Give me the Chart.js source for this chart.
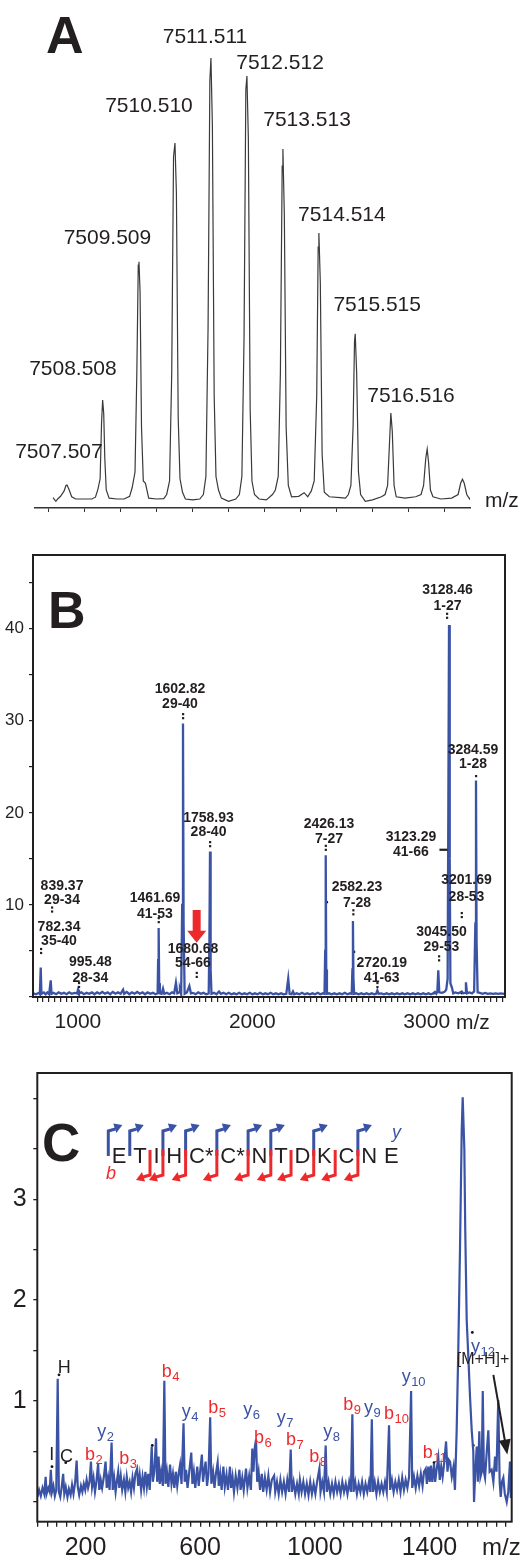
<!DOCTYPE html>
<html>
<head>
<meta charset="utf-8">
<script src="https://cdn.jsdelivr.net/npm/chart.js@4.4.1/dist/chart.umd.min.js"></script>
<style>
html, body { margin: 0; padding: 0; background: #fff; }
#wrap { position: relative; width: 521px; height: 1557px; }
canvas { position: absolute; left: 0; }
</style>
</head>
<body>
<div id="wrap">
  <canvas id="chartA" width="521" height="520" style="top:0px"></canvas>
  <canvas id="chartB" width="521" height="515" style="top:520px"></canvas>
  <canvas id="chartC" width="521" height="522" style="top:1035px"></canvas>
</div>
<script>
// ---------- panel A : isotope cluster ----------
var labelsA = ['7507.507', '7508.508', '7509.509', '7510.510', '7511.511',
               '7512.512', '7513.513', '7514.514', '7515.515', '7516.516'];
var ticksA = [7507, 7508, 7509, 7510, 7511, 7512, 7513, 7514, 7515, 7516, 7517, 7518];
var traceA = [
  [7507.12, 2.3], [7507.2, 1.5], [7507.25, 2.0], [7507.33, 2.6], [7507.43, 3.8], [7507.48, 5.0], [7507.51, 5.1],
  [7507.56, 4.2], [7507.64, 2.5], [7507.75, 2.0], [7508.0, 2.0], [7508.2, 2.0],
  [7508.30, 2.4], [7508.37, 4.2], [7508.43, 6.5], [7508.47, 19], [7508.50, 24], [7508.53, 21], [7508.56, 11],
  [7508.60, 4], [7508.68, 2.2], [7508.9, 2.0], [7509.1, 2.0],
  [7509.25, 2.6], [7509.32, 4.5], [7509.40, 8], [7509.45, 30], [7509.49, 54], [7509.51, 54.7], [7509.54, 48],
  [7509.58, 18], [7509.63, 6], [7509.69, 5.5], [7509.78, 2.2], [7510.0, 2.0], [7510.2, 2.1],
  [7510.28, 3.0], [7510.36, 6], [7510.42, 30], [7510.47, 78], [7510.51, 81.1], [7510.55, 70], [7510.60, 20],
  [7510.65, 6.5], [7510.72, 3.5], [7510.80, 2.0], [7511.0, 1.8], [7511.2, 2.0],
  [7511.30, 3.0], [7511.37, 7], [7511.43, 40], [7511.48, 95], [7511.51, 100], [7511.55, 85], [7511.60, 25],
  [7511.65, 7], [7511.72, 4], [7511.8, 2.2], [7512.0, 1.5], [7512.2, 2.0],
  [7512.30, 3], [7512.37, 7], [7512.43, 38], [7512.48, 93], [7512.51, 96], [7512.55, 82], [7512.60, 22],
  [7512.65, 6], [7512.72, 3], [7512.85, 2], [7513.05, 1.8], [7513.22, 3],
  [7513.30, 4], [7513.38, 7], [7513.44, 30], [7513.49, 76], [7513.51, 79.8], [7513.55, 65], [7513.60, 18],
  [7513.66, 5], [7513.75, 2.5], [7513.95, 2.6], [7514.1, 3.4], [7514.2, 2.5],
  [7514.30, 3.8], [7514.38, 6], [7514.45, 25], [7514.49, 58], [7514.51, 61.1], [7514.55, 50], [7514.60, 12],
  [7514.66, 3.5], [7514.8, 2.5], [7515.1, 2.3], [7515.25, 2.2],
  [7515.33, 3.0], [7515.40, 5], [7515.46, 18], [7515.50, 37], [7515.52, 38.7], [7515.56, 30], [7515.61, 8],
  [7515.67, 3], [7515.8, 1.5], [7516.0, 1.8], [7516.25, 2.5],
  [7516.35, 3.0], [7516.42, 5], [7516.47, 14], [7516.51, 21.1], [7516.55, 17], [7516.60, 5], [7516.66, 2.5],
  [7516.9, 2.2], [7517.2, 2.5],
  [7517.35, 3], [7517.42, 5], [7517.48, 11], [7517.52, 13.1], [7517.56, 10], [7517.61, 4], [7517.68, 2.5],
  [7517.9, 2.0], [7518.2, 2.2],
  [7518.38, 3], [7518.45, 5.5], [7518.50, 6.4], [7518.55, 5.5], [7518.62, 3], [7518.70, 2.0], [7518.77, 3.0]
];

// ---------- panel B : MALDI spectrum of digest ----------
var yTickLabelsB = [10, 20, 30, 40];
var xTickLabelsB = [1000, 2000, 3000];
var peakTextB = [
  ['782.34', '35-40'], ['839.37', '29-34'], ['995.48', '28-34'], ['1461.69', '41-53'],
  ['1602.82', '29-40'], ['1680.68', '54-66'], ['1758.93', '28-40'], ['2426.13', '7-27'],
  ['2582.23', '7-28'], ['2720.19', '41-63'], ['3045.50', '29-53'], ['3128.46', '1-27'],
  ['3123.29', '41-66'], ['3201.69', '28-53'], ['3284.59', '1-28']
];
var traceB = [
  [745, 0.4], [760, 0.3], [775, 0.45], [782, 0.3], [786.7, 3.2], [791, 0.35], [805, 0.5], [815, 0.3],
  [825, 0.5], [835, 0.3], [844, 1.8], [849, 0.35], [860, 0.45], [875, 0.3], [890, 0.5], [905, 0.35],
  [920, 0.45], [935, 0.3], [950, 0.5], [965, 0.35], [980, 0.45], [995, 0.4], [1000.6, 0.8], [1006, 0.4],
  [1020, 0.5], [1035, 0.3], [1050, 0.45], [1065, 0.35], [1080, 0.5], [1095, 0.3], [1110, 0.5], [1125, 0.35],
  [1140, 0.55], [1155, 0.35], [1170, 0.5], [1185, 0.3], [1200, 0.55], [1215, 0.35], [1230, 0.5], [1245, 0.35],
  [1259, 0.8], [1265, 0.35], [1280, 0.55], [1295, 0.3], [1310, 0.5], [1325, 0.35], [1340, 0.55], [1355, 0.35],
  [1370, 0.5], [1385, 0.3], [1400, 0.5], [1415, 0.35], [1430, 0.45], [1445, 0.3], [1457, 0.4], [1460, 4],
  [1463, 7.5], [1466, 1.5], [1470, 0.4], [1480, 0.35], [1488, 0.9], [1495, 0.35], [1510, 0.45], [1525, 0.3],
  [1540, 0.5], [1552, 0.4], [1562, 1.55], [1570, 0.4], [1580, 0.5], [1585, 0.8], [1592, 0.3], [1598, 10],
  [1602.6, 29.7], [1606, 8], [1612, 0.35], [1625, 0.5], [1639, 1.2], [1648, 0.4], [1660, 0.45], [1675, 0.3],
  [1690, 0.5], [1705, 0.35], [1720, 0.45], [1735, 0.3], [1750, 0.4], [1754, 6], [1757.5, 15.8], [1761, 3],
  [1766, 0.35], [1780, 0.45], [1795, 0.3], [1809, 0.6], [1820, 0.35], [1835, 0.45], [1850, 0.3], [1865, 0.45],
  [1880, 0.3], [1895, 0.4], [1910, 0.3], [1925, 0.45], [1940, 0.3], [1955, 0.4], [1970, 0.3], [1985, 0.45],
  [2000, 0.3], [2015, 0.4], [2030, 0.3], [2045, 0.45], [2060, 0.3], [2075, 0.4], [2090, 0.3], [2105, 0.45],
  [2120, 0.3], [2135, 0.4], [2150, 0.3], [2165, 0.4], [2180, 0.3], [2195, 0.35], [2206, 2.0], [2214, 0.35],
  [2225, 0.3], [2233, 0.6], [2240, 0.3], [2255, 0.4], [2270, 0.3], [2285, 0.45], [2300, 0.3], [2315, 0.4],
  [2330, 0.3], [2345, 0.4], [2360, 0.3], [2375, 0.45], [2390, 0.3], [2405, 0.4], [2414, 0.35], [2418, 5],
  [2421, 15.4], [2424, 3], [2428, 0.35], [2440, 0.4], [2455, 0.3], [2470, 0.4], [2485, 0.3], [2500, 0.4],
  [2515, 0.3], [2530, 0.45], [2545, 0.3], [2560, 0.4], [2570, 0.35], [2574, 3], [2577, 8.25], [2580, 2],
  [2584, 0.35], [2595, 0.4], [2610, 0.3], [2625, 0.4], [2640, 0.3], [2655, 0.4], [2670, 0.3], [2685, 0.4],
  [2700, 0.3], [2710, 0.35], [2717, 0.7], [2724, 0.35], [2740, 0.4], [2755, 0.3], [2770, 0.4], [2785, 0.3],
  [2800, 0.4], [2815, 0.3], [2830, 0.4], [2845, 0.3], [2860, 0.4], [2875, 0.3], [2890, 0.4], [2905, 0.3],
  [2920, 0.4], [2935, 0.3], [2950, 0.4], [2965, 0.3], [2980, 0.4], [2995, 0.3], [3010, 0.4], [3025, 0.3],
  [3040, 0.4], [3047.5, 0.55], [3055, 0.35], [3061, 0.6], [3066.5, 2.9], [3072, 0.5], [3085, 0.45], [3095, 0.5],
  [3105, 0.6], [3112, 0.8], [3120, 2], [3124, 20], [3128, 40.4], [3132, 15], [3136, 1.5], [3145, 1.0],
  [3152, 0.4], [3165, 0.5], [3180, 0.4], [3192, 0.5], [3200.7, 0.6], [3210, 0.4], [3220, 0.45], [3225, 1.6],
  [3231, 0.4], [3245, 0.5], [3260, 0.4], [3272, 0.6], [3279, 8], [3282.7, 23.5], [3286, 6], [3292, 0.5],
  [3305, 0.45], [3320, 0.35], [3335, 0.45], [3350, 0.35], [3365, 0.4], [3380, 0.35], [3395, 0.4], [3410, 0.35],
  [3425, 0.4], [3440, 0.35], [3449, 0.4]
];
var dotsB = [[2426.6, 10.3], [2583, 4.9], [3041.9, 0.43], [3200.7, 0.43]];

// ---------- panel C : MS/MS of ETIHC*C*NTDKCNE ----------
var yTickLabelsC = [1, 2, 3];
var xTickLabelsC = [200, 600, 1000, 1400];
var seqC = ['E', 'T', 'I', 'H', 'C*', 'C*', 'N', 'T', 'D', 'K', 'C', 'N', 'E'];
var yGapsC = [0, 1, 3, 4, 5, 6, 7, 9, 11];          // y-ion cleavages
var bGapsC = [2, 3, 4, 5, 6, 7, 8, 9, 10, 11];      // b-ion cleavages
var ionTextC = [
  ['H', '', 'k'], ['I', '', 'k'], ['C', '', 'k'], ['b', '2', 'r'], ['y', '2', 'u'], ['b', '3', 'r'],
  ['b', '4', 'r'], ['y', '4', 'u'], ['b', '5', 'r'], ['y', '6', 'u'], ['b', '6', 'r'], ['y', '7', 'u'],
  ['b', '7', 'r'], ['b', '8', 'r'], ['y', '8', 'u'], ['b', '9', 'r'], ['y', '9', 'u'], ['b', '10', 'r'],
  ['y', '10', 'u'], ['b', '11', 'r'], ['y', '12', 'u']
];
var traceC = [
  [32, 0.05], [38, 0.12], [44, 0.06], [50, 0.14], [56, 0.08], [61, 0.25], [64, 0.08], [70, 0.14], [75, 0.1],
  [79, 0.32], [83, 0.1], [88, 0.16], [93, 0.06], [98, 0.12], [103, 1.22], [107, 0.1], [112, 0.05], [117, 0.15],
  [122, 0.28], [126, 0.08], [131, 0.15], [137, 0.05], [142, 0.13], [148, 0.07], [153, 0.17], [158, 0.08],
  [164, 0.2], [169, 0.41], [173, 0.15], [178, 0.07], [184, 0.16], [189, 0.1], [194, 0.18], [199, 0.12],
  [204, 0.22], [209, 0.14], [214, 0.2], [219, 0.4], [223, 0.15], [228, 0.24], [233, 0.1], [238, 0.2],
  [244, 0.38], [248, 0.12], [253, 0.22], [258, 0.14], [264, 0.25], [270, 0.4], [274, 0.14], [279, 0.24],
  [284, 0.12], [291, 0.59], [295, 0.12], [300, 0.24], [305, 0.1], [310, 0.22], [314, 0.3], [318, 0.14],
  [323, 0.26], [328, 0.12], [334, 0.22], [339, 0.1], [344, 0.25], [349, 0.14], [354, 0.2], [359, 0.1],
  [364, 0.24], [369, 0.14], [374, 0.28], [380, 0.33], [384, 0.16], [389, 0.27], [394, 0.12], [399, 0.25],
  [404, 0.14], [409, 0.3], [414, 0.15], [419, 0.28], [424, 0.12], [431, 0.55], [435, 0.2], [440, 0.3],
  [446, 0.63], [450, 0.2], [455, 0.45], [459, 0.18], [464, 0.3], [470, 0.16], [475, 1.2], [479, 0.18],
  [484, 0.3], [489, 0.15], [495, 0.37], [500, 0.18], [505, 0.28], [510, 0.14], [515, 0.3], [520, 0.16],
  [525, 0.28], [530, 0.37], [535, 0.18], [542, 0.78], [546, 0.2], [551, 0.32], [556, 0.14], [562, 0.3],
  [569, 0.49], [573, 0.18], [578, 0.3], [583, 0.14], [590, 0.35], [595, 0.16], [600, 0.3], [606, 0.47],
  [610, 0.2], [615, 0.32], [619, 0.4], [624, 0.16], [629, 0.28], [635, 0.84], [639, 0.18], [645, 0.3],
  [650, 0.14], [655, 0.28], [661, 0.39], [665, 0.16], [670, 0.28], [675, 0.12], [681, 0.35], [686, 0.15],
  [692, 0.27], [697, 0.12], [704, 0.35], [708, 0.14], [713, 0.25], [718, 0.1], [724, 0.26], [730, 0.14],
  [737, 0.32], [741, 0.12], [747, 0.24], [752, 0.12], [760, 0.33], [765, 0.14], [771, 0.26], [777, 0.12],
  [782, 0.53], [786, 0.3], [791, 0.55], [795, 0.62], [799, 0.2], [804, 0.3], [809, 0.12], [815, 0.28],
  [820, 0.1], [826, 0.24], [832, 0.12], [838, 0.26], [844, 0.1], [850, 0.22], [858, 0.26], [862, 0.1],
  [868, 0.2], [874, 0.08], [880, 0.22], [886, 0.1], [892, 0.2], [898, 0.08], [904, 0.22], [910, 0.1],
  [916, 0.52], [920, 0.1], [926, 0.2], [932, 0.08], [938, 0.18], [944, 0.08], [948, 0.22], [954, 0.1],
  [960, 0.2], [966, 0.08], [972, 0.18], [978, 0.07], [984, 0.2], [990, 0.08], [996, 0.18], [1002, 0.08],
  [1008, 0.2], [1016, 0.33], [1020, 0.1], [1026, 0.2], [1032, 0.1], [1038, 0.56], [1042, 0.1], [1048, 0.2],
  [1054, 0.08], [1060, 0.18], [1066, 0.08], [1072, 0.2], [1078, 0.1], [1084, 0.18], [1090, 0.08], [1096, 0.2],
  [1102, 0.1], [1108, 0.18], [1114, 0.08], [1120, 0.2], [1126, 0.1], [1131, 0.87], [1135, 0.1], [1141, 0.2],
  [1147, 0.08], [1153, 0.18], [1159, 0.1], [1165, 0.2], [1171, 0.08], [1177, 0.18], [1183, 0.1], [1189, 0.2],
  [1194, 0.1], [1199, 0.82], [1203, 0.1], [1209, 0.2], [1215, 0.08], [1221, 0.2], [1227, 0.1], [1233, 0.18],
  [1239, 0.1], [1245, 0.2], [1251, 0.1], [1259, 0.76], [1263, 0.12], [1269, 0.22], [1275, 0.1], [1281, 0.2],
  [1287, 0.12], [1293, 0.22], [1299, 0.1], [1305, 0.24], [1311, 0.12], [1317, 0.22], [1323, 0.14], [1329, 0.25],
  [1336, 1.10], [1340, 0.14], [1346, 0.25], [1352, 0.14], [1358, 0.26], [1364, 0.16], [1370, 0.28], [1376, 0.16],
  [1381, 0.3], [1387, 0.33], [1391, 0.18], [1396, 0.35], [1401, 0.2], [1405, 0.36], [1410, 0.2], [1416, 0.38],
  [1420, 0.2], [1425, 0.32], [1431, 0.44], [1436, 0.22], [1441, 0.35], [1446, 0.25], [1452, 0.4], [1458, 0.6],
  [1463, 0.3], [1467, 0.42], [1472, 0.4], [1478, 0.25], [1484, 0.35], [1489, 0.12], [1495, 0.71], [1500.8, 1.53],
  [1506.7, 2.52], [1512.6, 3.68], [1516, 4.01], [1521.7, 3.5], [1525, 2.68], [1530, 1.8], [1535.7, 1.44],
  [1541.6, 1.04], [1547.5, 0.71], [1553, 0.5], [1555.6, 0.0], [1560, 0.3], [1565, 0.55], [1569, 0.2],
  [1574, 0.7], [1578, 0.25], [1582.5, 0.3], [1586, 1.1], [1590, 0.3], [1594, 0.24], [1600, 0.5], [1605.5, 0.71],
  [1610, 0.3], [1617, 0.32], [1623, 0.2], [1629, 0.45], [1634, 0.3], [1640, 1.01], [1645, 0.2], [1648.7, 0.05],
  [1653, 0.2], [1657.8, 0.24], [1663, 0.08], [1669.6, 0.0], [1675, 0.1], [1681, 0.4], [1684, 0.05], [1687, 0.05]
];
var dotsC = [[107.5, 1.26], [83, 0.35], [131, 0.39], [256.5, 0.14], [433, 0.56], [785.5, 0.47],
             [1416, 0.39], [1549.6, 1.68], [1553, 0.56]];

// ---------- layout (pixels / anchor points, not data) ----------
var FONT = '"Liberation Sans", Arial, Helvetica, sans-serif';
var INK = '#231f20', BLUE = '#3b53a4', RED = '#ec2a2c';
var labelAnchorA = [[7507.285, 12.5], [7507.674, 30.8], [7508.633, 60], [7509.787, 89.2], [7511.344, 104.7],
                    [7513.43, 98.8], [7514.18, 86.2], [7515.15, 65.1], [7516.13, 45], [7517.07, 24.9]];
// marker mz, marker value, text dx, line1 dy, line2 dy, marker type
var labelAnchorB = [
  [788.4, 4.9, 18, -25, -11, ':'], [851.5, 9.4, 10, -24, -10, ':'], [1006, 1.2, 11.5, -24, -8, ':'],
  [1463, 8.25, -3.7, -23, -7, ':'], [1602.6, 30.4, -3, -28, -13, ':'], [1681, 2.3, -3.7, -27, -13, ':'],
  [1757.5, 16.5, -1.5, -27, -13, ':'], [2421, 16.1, 3.3, -25, -10, ':'], [2579, 9.1, 3.7, -26, -10, ':'],
  [2717, 1.2, 4.4, -23, -8, ':'], [3070.5, 4.1, 2.5, -27, -12, ':'], [3116.4, 41.3, 0.5, -27, -11, ':'],
  [3096, 16.0, -32.5, -13, 2, '-'], [3200.7, 8.8, 4.8, -36, -19, ':'], [3282.7, 24.0, -3, -26, -12, '.']
];
var arrowB = [1681, 9.45, 5.9];
var ionAnchorC = [[103, 1.28], [73.7, 0.416], [111, 0.40], [198, 0.416], [241, 0.648], [318, 0.376],
  [466, 1.241], [535.7, 0.847], [628.5, 0.878], [750.6, 0.861], [788, 0.584], [867, 0.782], [899.6, 0.564],
  [981, 0.396], [1029.7, 0.648], [1099.5, 0.911], [1171.7, 0.881], [1241.5, 0.822], [1303, 1.193],
  [1376.5, 0.436], [1545, 1.49]];
var mhAnchorC = [1587, 1.37];
var mhArrowC = [[1623, 1.26], [1671.7, 0.47]];

function pts(a) { return a.map(function (p) { return { x: p[0], y: p[1] }; }); }
function fixedTicks(list) { return function (s) { s.ticks = list.map(function (v) { return { value: v }; }); }; }
function isIn(list, v) { for (var i = 0; i < list.length; i++) if (Math.abs(list[i] - v) < 1e-6) return true; return false; }
function stepList(a, b, st) { var r = []; for (var k = Math.ceil(a / st - 1e-9); k * st <= b + 1e-9; k++) r.push(k * st); return r; }

function boxPlugin(id) {
  return { id: id, afterDraw: function (chart) {
    var c = chart.ctx, a = chart.chartArea;
    c.save(); c.strokeStyle = INK; c.lineWidth = 2;
    c.strokeRect(a.left, a.top, a.right - a.left, a.bottom - a.top); c.restore();
  } };
}

// ---------- chart A ----------
new Chart(document.getElementById('chartA'), {
  type: 'line',
  data: { datasets: [{ data: pts(traceA), borderColor: '#3a3a3a', borderWidth: 1.2, pointRadius: 0, tension: 0 }] },
  options: {
    responsive: false, animation: false, devicePixelRatio: 1,
    layout: { padding: { left: 35, right: 51, top: 58, bottom: 0 } },
    plugins: { legend: { display: false }, tooltip: { enabled: false } },
    scales: {
      x: { type: 'linear', min: 7506.62, max: 7518.71,
           afterBuildTicks: fixedTicks(ticksA),
           afterFit: function (s) { s.height = 12; },
           grid: { drawOnChartArea: false, drawTicks: true, tickLength: 4, color: '#333', lineWidth: 1 },
           border: { display: true, color: '#333', width: 1.5 },
           ticks: { callback: function () { return ''; }, autoSkip: false, maxRotation: 0, padding: 0 } },
      y: { display: false, min: 0, max: 100 }
    }
  },
  plugins: [{ id: 'annotA', afterDraw: function (chart) {
    var c = chart.ctx, xs = chart.scales.x, ys = chart.scales.y;
    c.save();
    c.fillStyle = INK;
    c.font = 'bold 52px ' + FONT; c.textAlign = 'left'; c.textBaseline = 'alphabetic';
    c.fillText('A', 46, 53);
    c.font = '21px ' + FONT; c.textAlign = 'center'; c.textBaseline = 'middle';
    labelsA.forEach(function (t, i) {
      c.fillText(t, xs.getPixelForValue(labelAnchorA[i][0]), ys.getPixelForValue(labelAnchorA[i][1]));
    });
    c.textAlign = 'left';
    c.fillText('m/z', 485, 501);
    c.restore();
  } }]
});

// ---------- chart B ----------
new Chart(document.getElementById('chartB'), {
  type: 'line',
  data: { datasets: [
    { data: pts(traceB), borderColor: BLUE, borderWidth: 2.3, pointRadius: 0, tension: 0 },
    { data: pts(dotsB), showLine: false, pointRadius: 1.4, pointBackgroundColor: '#111', pointBorderWidth: 0 }
  ] },
  options: {
    responsive: false, animation: false, devicePixelRatio: 1,
    layout: { padding: { left: 0, right: 16, top: 35, bottom: 0 } },
    plugins: { legend: { display: false }, tooltip: { enabled: false } },
    scales: {
      x: { type: 'linear', min: 742.5, max: 3449,
           afterBuildTicks: fixedTicks(stepList(742.5, 3449, 100 / 3)),
           afterFit: function (s) { s.height = 38; },
           grid: { drawOnChartArea: false, drawTicks: true, tickLength: 5, color: INK, lineWidth: 1.2 },
           border: { display: false },
           ticks: { autoSkip: false, maxRotation: 0, minRotation: 0, padding: 8, color: INK,
                    font: { family: FONT, size: 21 },
                    callback: function (v) { return isIn(xTickLabelsB, v) ? String(Math.round(v)) : ''; } } },
      y: { min: 0, max: 48,
           afterBuildTicks: fixedTicks(stepList(0, 45, 5)),
           afterFit: function (s) { s.width = 33; },
           grid: { drawOnChartArea: false, drawTicks: true, tickLength: 4, color: INK, lineWidth: 1.2 },
           border: { display: false },
           ticks: { padding: 5, color: INK, font: { family: FONT, size: 17 },
                    callback: function (v) { return isIn(yTickLabelsB, v) ? String(v) : ''; } } }
    }
  },
  plugins: [boxPlugin('boxB'), { id: 'annotB', afterDraw: function (chart) {
    var c = chart.ctx, xs = chart.scales.x, ys = chart.scales.y;
    c.save();
    c.fillStyle = INK;
    c.font = 'bold 52px ' + FONT; c.textAlign = 'left'; c.textBaseline = 'alphabetic';
    c.fillText('B', 48, 108);
    c.font = 'bold 14px ' + FONT; c.textAlign = 'center'; c.textBaseline = 'middle';
    peakTextB.forEach(function (t, i) {
      var L = labelAnchorB[i];
      var px = xs.getPixelForValue(L[0]), py = ys.getPixelForValue(L[1]);
      c.fillText(t[0], px + L[2], py + L[3]);
      c.fillText(t[1], px + L[2], py + L[4]);
      if (L[5] === ':') { c.fillRect(px - 1, py - 4, 2.2, 2.2); c.fillRect(px - 1, py, 2.2, 2.2); }
      else if (L[5] === '-') { c.fillRect(px - 4, py - 1, 8, 2.2); }
      else { c.fillRect(px - 1, py - 1, 2.2, 2.2); }
    });
    // red arrow
    var ax = xs.getPixelForValue(arrowB[0]), aTop = ys.getPixelForValue(arrowB[1]), aTip = ys.getPixelForValue(arrowB[2]);
    c.fillStyle = RED;
    c.fillRect(ax - 4, aTop, 8, aTip - aTop - 11);
    c.beginPath(); c.moveTo(ax - 9.5, aTip - 12); c.lineTo(ax + 9.5, aTip - 12); c.lineTo(ax, aTip); c.closePath(); c.fill();
    c.fillStyle = INK;
    c.font = '21px ' + FONT; c.textAlign = 'left'; c.textBaseline = 'middle';
    c.fillText('m/z', 456, 503);
    c.restore();
  } }]
});

// ---------- chart C ----------
function yMark(c, gx) {
  c.strokeStyle = BLUE; c.fillStyle = BLUE; c.lineWidth = 3; c.lineJoin = 'miter';
  c.beginPath(); c.moveTo(gx, 121); c.lineTo(gx, 96); c.lineTo(gx + 7, 94); c.stroke();
  c.beginPath(); c.moveTo(gx + 14, 90); c.lineTo(gx + 5, 88.5); c.lineTo(gx + 8, 98); c.closePath(); c.fill();
}
function bMark(c, gx) {
  c.strokeStyle = RED; c.fillStyle = RED; c.lineWidth = 3; c.lineJoin = 'miter';
  c.beginPath(); c.moveTo(gx, 115); c.lineTo(gx, 140); c.lineTo(gx - 7, 142); c.stroke();
  c.beginPath(); c.moveTo(gx - 14, 145); c.lineTo(gx - 5, 146.5); c.lineTo(gx - 8, 137); c.closePath(); c.fill();
}

new Chart(document.getElementById('chartC'), {
  type: 'line',
  data: { datasets: [
    { data: pts(traceC), borderColor: BLUE, borderWidth: 2.2, pointRadius: 0, tension: 0 },
    { data: pts(dotsC), showLine: false, pointRadius: 1.4, pointBackgroundColor: '#111', pointBorderWidth: 0 }
  ] },
  options: {
    responsive: false, animation: false, devicePixelRatio: 1,
    layout: { padding: { left: 0, right: 9.3, top: 38, bottom: 0 } },
    plugins: { legend: { display: false }, tooltip: { enabled: false } },
    scales: {
      x: { type: 'linear', min: 31.8, max: 1687,
           afterBuildTicks: fixedTicks(stepList(31.8, 1687, 100 / 3)),
           afterFit: function (s) { s.height = 35.3; },
           grid: { drawOnChartArea: false, drawTicks: true, tickLength: 5, color: INK, lineWidth: 1.3 },
           border: { display: false },
           ticks: { autoSkip: false, maxRotation: 0, minRotation: 0, padding: 6, color: INK,
                    font: { family: FONT, size: 25 },
                    callback: function (v) { return isIn(xTickLabelsC, v) ? String(Math.round(v)) : ''; } } },
      y: { min: -0.195, max: 4.25,
           afterBuildTicks: fixedTicks(stepList(0, 4.25, 0.25)),
           afterFit: function (s) { s.width = 37.3; },
           grid: { drawOnChartArea: false, drawTicks: true, tickLength: 4, color: INK, lineWidth: 1.3 },
           border: { display: false },
           ticks: { padding: 6.6, color: INK, font: { family: FONT, size: 25 },
                    callback: function (v) { return isIn(yTickLabelsC, v) ? String(v) : ''; } } }
    }
  },
  plugins: [boxPlugin('boxC'), { id: 'annotC', afterDraw: function (chart) {
    var c = chart.ctx, xs = chart.scales.x, ys = chart.scales.y;
    c.save();
    c.fillStyle = INK;
    c.font = 'bold 53px ' + FONT; c.textAlign = 'left'; c.textBaseline = 'alphabetic';
    c.fillText('C', 42, 126);
    // sequence with fragment markers
    c.font = '22px ' + FONT;
    var x = 111.7, gap = 6.8, gaps = [];
    seqC.forEach(function (s) {
      gaps.push(x - gap / 2);
      c.fillStyle = INK; c.fillText(s, x, 127.7);
      x += c.measureText(s).width + gap;
    });
    yGapsC.forEach(function (g) { yMark(c, gaps[g]); });
    bGapsC.forEach(function (g) { bMark(c, gaps[g]); });
    c.font = 'italic 18px ' + FONT;
    c.fillStyle = BLUE; c.fillText('y', 392, 103);
    c.fillStyle = RED; c.fillText('b', 106, 144);
    // ion labels
    ionTextC.forEach(function (t, i) {
      var px = xs.getPixelForValue(ionAnchorC[i][0]), py = ys.getPixelForValue(ionAnchorC[i][1]);
      c.fillStyle = t[2] === 'r' ? RED : (t[2] === 'u' ? BLUE : INK);
      c.font = '18px ' + FONT; c.textAlign = 'left'; c.textBaseline = 'alphabetic';
      c.fillText(t[0], px, py);
      if (t[1]) {
        var w = c.measureText(t[0]).width;
        c.font = '13px ' + FONT;
        c.fillText(t[1], px + w + 0.5, py + 4);
      }
    });
    c.fillStyle = INK; c.font = '16px ' + FONT; c.textAlign = 'center';
    c.fillText('[M+H]+', xs.getPixelForValue(mhAnchorC[0]), ys.getPixelForValue(mhAnchorC[1]));
    // arrow to [M+H]+
    var x1 = xs.getPixelForValue(mhArrowC[0][0]), y1 = ys.getPixelForValue(mhArrowC[0][1]);
    var x2 = xs.getPixelForValue(mhArrowC[1][0]), y2 = ys.getPixelForValue(mhArrowC[1][1]);
    var ang = Math.atan2(y2 - y1, x2 - x1);
    c.strokeStyle = INK; c.lineWidth = 2;
    c.beginPath(); c.moveTo(x1, y1); c.lineTo(x2 - 12 * Math.cos(ang), y2 - 12 * Math.sin(ang)); c.stroke();
    c.beginPath(); c.moveTo(x2, y2);
    c.lineTo(x2 - 15 * Math.cos(ang) + 6 * Math.sin(ang), y2 - 15 * Math.sin(ang) - 6 * Math.cos(ang));
    c.lineTo(x2 - 15 * Math.cos(ang) - 6 * Math.sin(ang), y2 - 15 * Math.sin(ang) + 6 * Math.cos(ang));
    c.closePath(); c.fillStyle = INK; c.fill();
    c.font = '24px ' + FONT; c.textAlign = 'left'; c.textBaseline = 'middle';
    c.fillText('m/z', 482, 513);
    c.restore();
  } }]
});
</script>
</body>
</html>
